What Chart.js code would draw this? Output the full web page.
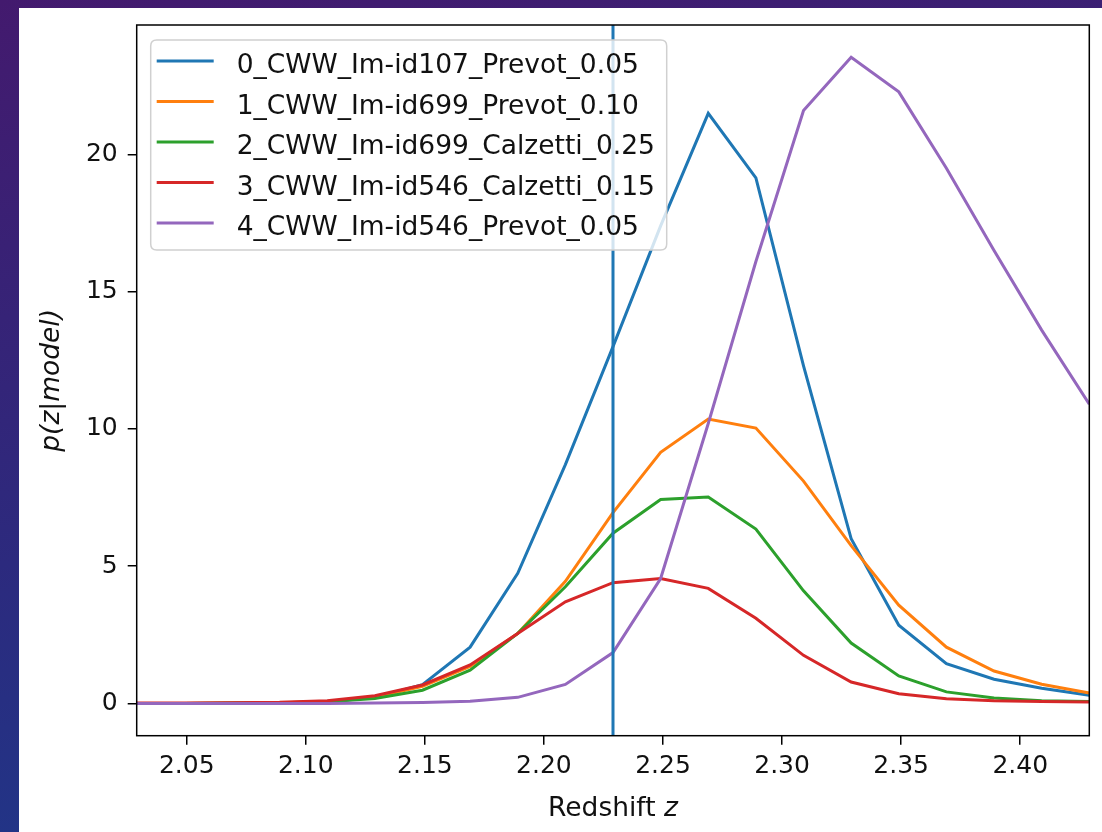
<!DOCTYPE html>
<html>
<head>
<meta charset="utf-8">
<script src="https://cdn.jsdelivr.net/npm/chart.js@4.4.1/dist/chart.umd.min.js"></script>
<style>
html, body { margin: 0; padding: 0; }
body {
    width: 1102px; height: 832px; overflow: hidden; position: relative;
    background: linear-gradient(170deg, #431a6e 0%, #2c2a7e 55%, #1b3b8c 100%);
}
#panel { position: absolute; left: 19px; top: 8px; width: 1083px; height: 824px; background: #fff; }
canvas { display: block; }
</style>
</head>
<body>
<div id="panel"><canvas id="pzChart" width="1083" height="824"></canvas></div>
<script>
// redshift grid and p(z|model) for each template fit
const redshift = [2.029, 2.049, 2.069, 2.089, 2.109, 2.129, 2.149, 2.169, 2.189, 2.209, 2.229,
                  2.249, 2.269, 2.289, 2.309, 2.329, 2.349, 2.369, 2.389, 2.409, 2.429];
const pzId107Prevot005   = [0.00, 0.00, 0.00, 0.01, 0.05, 0.22, 0.68, 2.05, 4.74, 8.70, 13.0,
                            17.4, 21.5, 19.15, 12.3, 6.00, 2.85, 1.45, 0.88, 0.55, 0.30];
const pzId699Prevot010   = [0.00, 0.00, 0.01, 0.02, 0.07, 0.22, 0.62, 1.35, 2.55, 4.45, 6.95,
                            9.15, 10.36, 10.03, 8.10, 5.75, 3.58, 2.05, 1.18, 0.70, 0.38];
const pzId699Calzetti025 = [0.00, 0.00, 0.01, 0.02, 0.06, 0.18, 0.48, 1.21, 2.55, 4.25, 6.20,
                            7.43, 7.52, 6.35, 4.10, 2.20, 1.00, 0.42, 0.20, 0.10, 0.07];
const pzId546Calzetti015 = [0.01, 0.01, 0.02, 0.04, 0.10, 0.28, 0.67, 1.40, 2.55, 3.70, 4.40,
                            4.55, 4.19, 3.10, 1.75, 0.78, 0.35, 0.17, 0.10, 0.07, 0.05];
const pzId546Prevot005   = [0.00, 0.00, 0.00, 0.00, 0.00, 0.01, 0.03, 0.08, 0.22, 0.69, 1.85,
                            4.55, 10.2, 16.1, 21.6, 23.54, 22.28, 19.5, 16.5, 13.6, 10.9];

const seriesLabels = [
    '0_CWW_Im-id107_Prevot_0.05',
    '1_CWW_Im-id699_Prevot_0.10',
    '2_CWW_Im-id699_Calzetti_0.25',
    '3_CWW_Im-id546_Calzetti_0.15',
    '4_CWW_Im-id546_Prevot_0.05'
];
const seriesColors = ['#1f77b4', '#ff7f0e', '#2ca02c', '#d62728', '#9467bd'];

const xTicks = [2.05, 2.10, 2.15, 2.20, 2.25, 2.30, 2.35, 2.40];
const yTicks = [0, 5, 10, 15, 20];
const xRange = [2.029, 2.429];
const yRange = [-1.177, 24.717];
const zMarker = 2.229;  // vertical marker line

const FONT = '"DejaVu Sans", "Liberation Sans", sans-serif';
const TICK_SIZE = 25;
const TEXT_SIZE = 26.5;  // legend and axis titles
const INK = '#111';

const series = [pzId107Prevot005, pzId699Prevot010, pzId699Calzetti025, pzId546Calzetti015, pzId546Prevot005];

const datasets = series.map((vals, i) => ({
    label: seriesLabels[i],
    data: redshift.map((z, k) => ({ x: z, y: vals[k] })),
    borderColor: seriesColors[i],
    borderWidth: 3,
    pointRadius: 0,
    tension: 0,
    fill: false,
    order: series.length - i + 1  // later series on top, like matplotlib
}));

// marker line, drawn on top of everything
datasets.push({
    label: 'marker',
    data: [{ x: zMarker, y: yRange[0] }, { x: zMarker, y: yRange[1] }],
    borderColor: seriesColors[0],
    borderWidth: 3,
    pointRadius: 0,
    fill: false,
    order: 0
});

// box round the axes, legend and axis titles
const decorations = {
    id: 'decorations',
    afterDatasetsDraw(chart) {
        const { ctx, chartArea: a } = chart;
        ctx.save();
        ctx.strokeStyle = '#000';
        ctx.lineWidth = 1.5;
        ctx.strokeRect(a.left, a.top, a.right - a.left, a.bottom - a.top);

        // legend box
        const bx = a.left + 14, by = a.top + 15, bw = 516, bh = 210, r = 6;
        ctx.beginPath();
        ctx.moveTo(bx + r, by);
        ctx.lineTo(bx + bw - r, by);
        ctx.quadraticCurveTo(bx + bw, by, bx + bw, by + r);
        ctx.lineTo(bx + bw, by + bh - r);
        ctx.quadraticCurveTo(bx + bw, by + bh, bx + bw - r, by + bh);
        ctx.lineTo(bx + r, by + bh);
        ctx.quadraticCurveTo(bx, by + bh, bx, by + bh - r);
        ctx.lineTo(bx, by + r);
        ctx.quadraticCurveTo(bx, by, bx + r, by);
        ctx.closePath();
        ctx.fillStyle = 'rgba(255,255,255,0.8)';
        ctx.fill();
        ctx.strokeStyle = '#d0d0d0';
        ctx.lineWidth = 1.5;
        ctx.stroke();

        ctx.font = TEXT_SIZE + 'px ' + FONT;
        ctx.textAlign = 'left';
        ctx.textBaseline = 'alphabetic';
        seriesLabels.forEach((lab, i) => {
            const ly = by + 21 + i * 40.5;
            ctx.strokeStyle = seriesColors[i];
            ctx.lineWidth = 3;
            ctx.beginPath();
            ctx.moveTo(bx + 6, ly);
            ctx.lineTo(bx + 63, ly);
            ctx.stroke();
            ctx.fillStyle = INK;
            ctx.fillText(lab, bx + 86, ly + 12);
        });
        ctx.restore();
    },
    afterDraw(chart) {
        const { ctx, chartArea: a } = chart;
        ctx.save();
        ctx.fillStyle = INK;
        ctx.textBaseline = 'alphabetic';
        ctx.textAlign = 'left';
        // x title: "Redshift " upright, "z" italic
        const regular = TEXT_SIZE + 'px ' + FONT, italic = 'italic ' + TEXT_SIZE + 'px ' + FONT;
        ctx.font = regular;
        const w1 = ctx.measureText('Redshift ').width;
        ctx.font = italic;
        const w2 = ctx.measureText('z').width;
        const x0 = (a.left + a.right) / 2 - (w1 + w2) / 2;
        const yb = a.bottom + 80;
        ctx.font = regular;
        ctx.fillText('Redshift ', x0, yb);
        ctx.font = italic;
        ctx.fillText('z', x0 + w1, yb);

        // y title
        ctx.translate(40, (a.top + a.bottom) / 2);
        ctx.rotate(-Math.PI / 2);
        ctx.textAlign = 'center';
        ctx.font = italic;
        ctx.fillText('p(z|model)', 0, 0);
        ctx.restore();
    }
};

const axisGrid = { display: true, drawOnChartArea: false, drawTicks: true, tickLength: 9, color: '#000', lineWidth: 1.5 };

new Chart(document.getElementById('pzChart'), {
    type: 'line',
    data: { datasets },
    options: {
        responsive: false,
        animation: false,
        events: [],
        layout: { padding: { left: 0, top: 17, right: 12.7, bottom: 0 } },
        plugins: { legend: { display: false }, tooltip: { enabled: false } },
        scales: {
            x: {
                type: 'linear',
                min: xRange[0],
                max: xRange[1],
                grid: axisGrid,
                border: { display: false },
                afterBuildTicks: (axis) => { axis.ticks = xTicks.map(v => ({ value: v })); },
                afterFit: (axis) => { axis.height = 96.3; axis.paddingLeft = 0; axis.paddingRight = 0; },
                ticks: {
                    padding: 7,
                    maxRotation: 0,
                    autoSkip: false,
                    color: INK,
                    font: { family: FONT, size: TICK_SIZE },
                    callback: (v) => Number(v).toFixed(2)
                }
            },
            y: {
                type: 'linear',
                min: yRange[0],
                max: yRange[1],
                grid: axisGrid,
                border: { display: false },
                afterBuildTicks: (axis) => { axis.ticks = yTicks.map(v => ({ value: v })); },
                afterFit: (axis) => { axis.width = 117.7; axis.paddingTop = 0; axis.paddingBottom = 0; },
                ticks: {
                    padding: 10,
                    color: INK,
                    font: { family: FONT, size: TICK_SIZE },
                    callback: (v) => String(v)
                }
            }
        }
    },
    plugins: [decorations]
});
</script>
</body>
</html>
